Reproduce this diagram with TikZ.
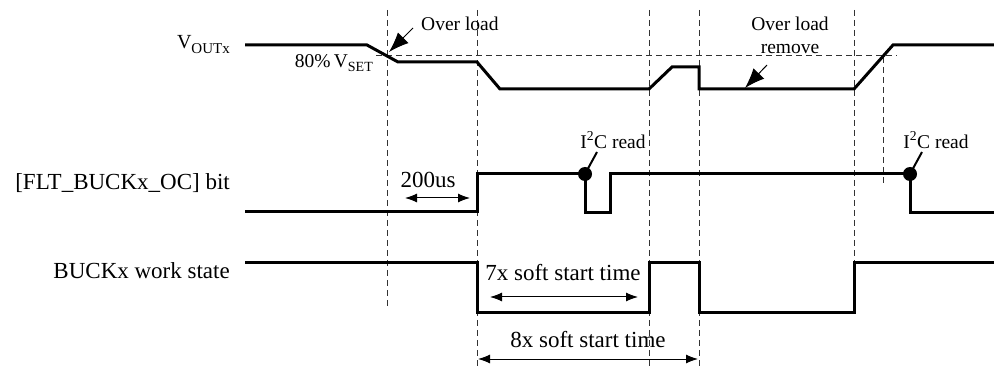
\documentclass[tikz,border=0pt]{standalone}
\usepackage{fontspec}
\setmainfont{Liberation Serif}
\usetikzlibrary{arrows, arrows.meta}
\tikzstyle{signal} = [line width=3pt, line join=miter]
\tikzstyle{guide} = [line width=1pt, dash pattern=on 6pt off 4pt, black!80]
\tikzstyle{rowlabel} = [font=\fontsize{23}{26}\selectfont, inner sep=0pt]
\tikzstyle{note} = [font=\fontsize{19.5}{23}\selectfont, inner sep=0pt, align=center]
\tikzstyle{span} = [line width=1pt, {Latex[length=12pt,width=9pt]}-{Latex[length=12pt,width=9pt]}]
\tikzstyle{pointer} = [line width=1pt, -{Latex[length=20pt,width=15pt]}]
\tikzstyle{readdot} = [circle, fill=black, inner sep=0pt, minimum size=14pt]

\begin{document}
\begin{tikzpicture}[x=1pt, y=-1pt]
    \useasboundingbox (0,0) rectangle (994,366);

    % row labels
    \node (vout) [rowlabel, anchor=east] at (230,45) {\fontsize{20}{22}\selectfont V\raisebox{-5pt}{\fontsize{15}{15}\selectfont OUTx}};
    \node (flt) [rowlabel, anchor=east] at (230,183) {[FLT\_BUCKx\_OC] bit};
    \node (buck) [rowlabel, anchor=east] at (230,271) {BUCKx work state};

    % guide lines
    \draw [guide] (387,10) -- (387,309);
    \draw [guide] (477,10) -- (477,366);
    \draw [guide] (649,10) -- (649,366);
    \draw [guide] (699,10) -- (699,366);
    \draw [guide] (854,10) -- (854,313);
    \draw [guide] (883,57) -- (883,185);
    \draw [guide] (376,56) -- (897,56);

    % waveforms
    \draw [signal] (245,45) -- (367,45) -- (398,62) -- (477,62) -- (500,89) -- (649,89)
        -- (672,67) -- (699,67) -- (699,89) -- (854,89) -- (893,45) -- (994,45);
    \draw [signal] (245,212) -- (477,212) -- (477,174) -- (585,174) -- (585,213) -- (610,213)
        -- (610,174) -- (910,174) -- (910,213) -- (994,213);
    \draw [signal] (245,263) -- (477,263) -- (477,313) -- (649,313) -- (649,263) -- (699,263)
        -- (699,313) -- (854,313) -- (854,263) -- (994,263);

    % notes on the output
    \node (vset) [note, anchor=east] at (373,63) {80\%\,V\raisebox{-4pt}{\fontsize{14}{14}\selectfont SET}};
    \node (ovl) [note, anchor=west] at (421,24) {Over load};
    \node (ovlrm) [note] at (790,35) {Over load\\remove};
    \coordinate (ovltip) at (389,52);
    \coordinate (ovltail) at (413,28);
    \coordinate (rmtail) at (767,65);
    \coordinate (rmtip) at (745,88);
    \draw [pointer] (ovltail) -- (ovltip);
    \draw [pointer] (rmtail) -- (rmtip);

    % i2c reads
    \node (rd1) [readdot] at (585,174) {};
    \node (rd2) [readdot] at (910,174) {};
    \node (i2c1) [note] at (613,140) {I\textsuperscript{2}C read};
    \node (i2c2) [note] at (936,140) {I\textsuperscript{2}C read};
    \draw [line width=2pt] (rd1.center) -- (597,152);
    \draw [line width=2pt] (rd2.center) -- (922,152);

    % timings
    \node (t200) [rowlabel] at (428,180) {200us};
    \coordinate (t200a) at (405,198);
    \coordinate (t200b) at (470,198);
    \draw [span] (t200a) -- (t200b);
    \node (t7x) [rowlabel] at (563,273) {7x soft start time};
    \coordinate (t7a) at (490,297);
    \coordinate (t7b) at (638,297);
    \draw [span] (t7a) -- (t7b);
    \node (t8x) [rowlabel] at (588,340) {8x soft start time};
    \coordinate (t8a) at (478,359);
    \coordinate (t8b) at (698,359);
    \draw [span] (t8a) -- (t8b);
\end{tikzpicture}
\end{document}
